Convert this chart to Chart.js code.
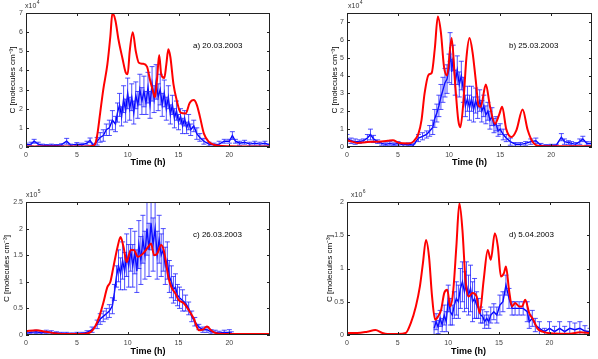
<!DOCTYPE html>
<html>
<head>
<meta charset="utf-8">
<script src="https://cdn.jsdelivr.net/npm/chart.js@4.4.1/dist/chart.umd.min.js"></script>
<style>
  html, body { margin: 0; padding: 0; background: #fff; }
  #lienzo { position: relative; width: 598px; height: 359px; overflow: hidden; }
  #lienzo canvas { position: absolute; }
</style>
</head>
<body>
<div id="lienzo">
  <canvas id="panelA" width="300" height="180" style="left:0;top:0"></canvas>
  <canvas id="panelB" width="298" height="180" style="left:300px;top:0"></canvas>
  <canvas id="panelC" width="300" height="179" style="left:0;top:180px"></canvas>
  <canvas id="panelD" width="298" height="179" style="left:300px;top:180px"></canvas>
</div>
<script>
// ticks
const ticksTiempo = [0, 5, 10, 15, 20];
const ticksYA = [0, 1, 2, 3, 4, 5, 6, 7];
const ticksYB = [0, 1, 2, 3, 4, 5, 6, 7];
const ticksYC = [0, 0.5, 1, 1.5, 2, 2.5];
const ticksYD = [0, 0.5, 1, 1.5, 2];

// a) 20.03.2003
const horasModeloA = [0, 2, 4, 6, 6.5, 6.8, 7, 7.3, 7.6, 8, 8.3, 8.5, 8.8, 9.1, 9.5, 9.8, 10, 10.2, 10.5, 10.8, 11.1, 11.5, 11.9, 12.2, 12.5, 12.7, 12.9, 13.1, 13.3, 13.6, 13.8, 14, 14.2, 14.5, 14.8, 15.2, 15.7, 16.1, 16.5, 16.8, 17.1, 17.5, 18, 18.5, 19, 20, 22, 24];
const modeloA = [0.02, 0.02, 0.02, 0.03, 0.05, 0.15, 0.6, 1.8, 3.0, 4.3, 5.8, 7.0, 6.6, 5.6, 4.6, 3.9, 3.8, 5.0, 6.0, 5.0, 4.4, 4.35, 4.2, 3.5, 2.9, 2.6, 3.6, 4.8, 3.8, 3.6, 4.3, 5.1, 4.7, 3.3, 2.5, 1.8, 1.75, 2.3, 2.45, 2.2, 1.6, 0.7, 0.26, 0.12, 0.06, 0.04, 0.03, 0.03];
const horasMedidaA = [0, 0.5, 0.8, 1.2, 1.6, 2, 2.5, 3, 3.5, 4, 4.4, 5, 5.5, 6, 6.3, 6.6, 7, 7.3, 7.6, 7.9, 8.2, 8.5, 8.8, 9.0, 9.2, 9.4, 9.6, 9.8, 10.0, 10.2, 10.4, 10.6, 10.8, 11.0, 11.2, 11.4, 11.6, 11.8, 12.0, 12.2, 12.4, 12.6, 12.8, 13.0, 13.2, 13.4, 13.6, 13.8, 14.0, 14.2, 14.4, 14.6, 14.8, 15.0, 15.2, 15.4, 15.6, 15.8, 16.0, 16.2, 16.5, 16.8, 17.1, 17.5, 18.0, 18.5, 19.0, 19.5, 20.0, 20.3, 20.6, 21.0, 21.5, 22, 22.5, 23, 23.5, 24];
const medidaA = [0.1, 0.15, 0.3, 0.15, 0.1, 0.08, 0.1, 0.08, 0.12, 0.3, 0.1, 0.15, 0.12, 0.2, 0.35, 0.1, 0.3, 0.5, 0.6, 0.9, 1.0, 1.4, 1.2, 1.8, 2.2, 1.6, 2.5, 1.9, 2.8, 2.0, 2.6, 1.8, 2.7, 2.2, 3.0, 2.4, 2.9, 2.3, 3.1, 2.2, 3.3, 2.5, 3.4, 2.6, 3.0, 2.2, 2.8, 2.0, 2.6, 1.7, 2.2, 1.5, 1.9, 1.3, 1.6, 1.1, 1.5, 1.0, 1.3, 0.9, 1.1, 0.7, 0.5, 0.3, 0.15, 0.1, 0.15, 0.3, 0.3, 0.6, 0.3, 0.2, 0.25, 0.15, 0.2, 0.15, 0.2, 0.1];
const erroresA = [0.1, 0.1, 0.1, 0.1, 0.05, 0.05, 0.05, 0.05, 0.05, 0.15, 0.05, 0.08, 0.08, 0.1, 0.12, 0.05, 0.2, 0.25, 0.3, 0.3, 0.4, 0.5, 0.4, 0.5, 0.6, 0.5, 0.7, 0.6, 0.8, 0.6, 0.7, 0.6, 0.7, 0.7, 0.8, 0.7, 0.8, 0.6, 0.8, 0.7, 0.9, 0.7, 0.9, 0.7, 0.8, 0.6, 0.7, 0.6, 0.6, 0.5, 0.5, 0.5, 0.5, 0.4, 0.4, 0.4, 0.4, 0.3, 0.4, 0.3, 0.3, 0.3, 0.2, 0.15, 0.1, 0.1, 0.15, 0.1, 0.1, 0.2, 0.1, 0.1, 0.1, 0.1, 0.1, 0.1, 0.1, 0.05];

// b) 25.03.2003
const horasModeloB = [0, 0.5, 1, 2, 3, 4, 4.5, 5, 6, 6.5, 7, 7.3, 7.6, 8, 8.3, 8.6, 8.9, 9.2, 9.5, 9.8, 10.25, 10.6, 10.9, 11.1, 11.4, 11.7, 12, 12.3, 12.6, 12.9, 13.1, 13.6, 14, 14.5, 14.9, 15.2, 15.6, 16.1, 16.6, 17.2, 17.7, 18.2, 18.9, 20, 22, 24];
const modeloB = [0.38, 0.3, 0.23, 0.28, 0.3, 0.35, 0.38, 0.25, 0.2, 0.3, 0.75, 1.5, 3.0, 4.05, 4.15, 5.5, 7.3, 6.4, 4.5, 4.0, 6.1, 3.5, 1.5, 1.1, 2.5, 5.0, 6.1, 5.3, 3.8, 2.3, 2.25, 3.5, 2.3, 1.3, 1.8, 2.25, 1.0, 0.56, 0.95, 2.1, 0.95, 0.28, 0.05, 0.04, 0.04, 0.04];
const horasMedidaB = [0, 0.4, 0.8, 1.2, 1.6, 2.0, 2.3, 2.6, 3.0, 3.4, 3.8, 4.2, 4.6, 5.0, 5.5, 6.0, 6.5, 7.0, 7.4, 7.8, 8.1, 8.4, 8.6, 8.8, 9.0, 9.2, 9.4, 9.6, 9.8, 10.0, 10.1, 10.25, 10.4, 10.6, 10.8, 11.0, 11.2, 11.4, 11.6, 11.8, 12.0, 12.2, 12.4, 12.6, 12.8, 13.0, 13.2, 13.4, 13.6, 13.8, 14.0, 14.2, 14.4, 14.6, 14.8, 15.0, 15.3, 15.6, 16.0, 16.5, 17.0, 17.5, 18.0, 18.5, 19.0, 19.5, 20.0, 20.5, 21.0, 21.3, 21.7, 22.0, 22.4, 22.8, 23.1, 23.5, 24.0];
const medidaB = [0.5, 0.35, 0.3, 0.3, 0.35, 0.5, 0.7, 0.45, 0.3, 0.2, 0.15, 0.2, 0.15, 0.2, 0.12, 0.15, 0.1, 0.5, 0.6, 0.7, 0.9, 1.1, 1.6, 1.9, 2.3, 2.8, 3.2, 3.6, 3.8, 4.4, 5.6, 4.2, 5.0, 3.6, 4.3, 3.5, 4.0, 3.2, 2.3, 2.7, 2.2, 2.7, 2.1, 2.6, 2.2, 2.6, 2.0, 2.3, 1.8, 2.0, 1.5, 1.7, 1.2, 1.3, 0.9, 1.0, 0.7, 0.5, 0.3, 0.15, 0.15, 0.2, 0.3, 0.35, 0.1, 0.08, 0.1, 0.1, 0.55, 0.3, 0.25, 0.2, 0.15, 0.3, 0.45, 0.2, 0.2];
const erroresB = [0.2, 0.15, 0.15, 0.1, 0.1, 0.2, 0.3, 0.2, 0.1, 0.1, 0.08, 0.1, 0.08, 0.1, 0.08, 0.08, 0.08, 0.2, 0.2, 0.2, 0.3, 0.4, 0.5, 0.5, 0.6, 0.7, 0.7, 0.8, 0.8, 0.8, 0.8, 0.7, 0.7, 0.7, 0.8, 0.7, 0.8, 0.7, 0.6, 0.7, 0.7, 0.7, 0.7, 0.7, 0.6, 0.6, 0.6, 0.6, 0.5, 0.5, 0.5, 0.5, 0.4, 0.4, 0.3, 0.3, 0.3, 0.2, 0.2, 0.1, 0.1, 0.1, 0.15, 0.15, 0.1, 0.05, 0.05, 0.05, 0.2, 0.15, 0.1, 0.1, 0.1, 0.15, 0.15, 0.1, 0.1];

// c) 26.03.2003
const horasModeloC = [0, 1, 2, 3, 4, 5, 6, 6.4, 6.8, 7.2, 7.6, 8, 8.3, 8.6, 9, 9.3, 9.6, 9.9, 10.3, 10.6, 11, 11.5, 12, 12.3, 12.6, 12.9, 13.3, 13.6, 14, 14.3, 14.7, 15, 15.5, 16, 16.5, 17, 17.4, 17.8, 18.2, 18.6, 19.5, 21, 24];
const modeloC = [0.07, 0.09, 0.06, 0.03, 0.02, 0.02, 0.03, 0.06, 0.16, 0.34, 0.6, 0.9, 1.0, 1.28, 1.65, 1.84, 1.65, 1.37, 1.6, 1.6, 1.47, 1.53, 1.65, 1.72, 1.5, 1.53, 1.69, 1.55, 1.09, 0.9, 0.78, 0.66, 0.6, 0.47, 0.31, 0.09, 0.1, 0.16, 0.09, 0.04, 0.02, 0.02, 0.02];
const horasMedidaC = [0, 0.5, 1, 1.5, 2, 2.5, 3, 3.5, 4, 4.5, 5, 5.5, 6, 6.5, 7.0, 7.3, 7.6, 7.9, 8.2, 8.5, 8.7, 8.9, 9.1, 9.3, 9.5, 9.7, 9.9, 10.1, 10.3, 10.5, 10.7, 10.9, 11.1, 11.3, 11.5, 11.7, 11.9, 12.1, 12.3, 12.5, 12.7, 12.9, 13.1, 13.3, 13.5, 13.7, 13.9, 14.1, 14.3, 14.5, 14.7, 14.9, 15.1, 15.4, 15.7, 16.0, 16.3, 16.6, 17.0, 17.4, 17.8, 18.2, 18.6, 19.0, 19.5, 20.0, 20.2];
const medidaC = [0.03, 0.05, 0.06, 0.04, 0.06, 0.05, 0.04, 0.03, 0.03, 0.02, 0.03, 0.03, 0.05, 0.1, 0.2, 0.3, 0.35, 0.4, 0.45, 0.55, 0.8, 1.1, 1.3, 1.15, 1.4, 1.2, 1.5, 1.3, 1.6, 1.3, 1.55, 1.2, 1.7, 1.4, 1.8, 1.5, 2.0, 1.6, 2.1, 1.7, 2.0, 1.5, 1.8, 1.5, 1.6, 1.3, 1.4, 1.1, 1.0, 0.85, 0.9, 0.75, 0.7, 0.65, 0.6, 0.5, 0.35, 0.25, 0.15, 0.1, 0.1, 0.06, 0.05, 0.04, 0.05, 0.05, 0.03];
const erroresC = [0.02, 0.03, 0.03, 0.02, 0.03, 0.03, 0.02, 0.02, 0.02, 0.02, 0.02, 0.02, 0.03, 0.05, 0.08, 0.1, 0.1, 0.1, 0.12, 0.15, 0.15, 0.2, 0.3, 0.3, 0.35, 0.35, 0.4, 0.4, 0.4, 0.4, 0.4, 0.4, 0.45, 0.45, 0.45, 0.45, 0.5, 0.5, 0.5, 0.5, 0.5, 0.45, 0.45, 0.4, 0.4, 0.35, 0.35, 0.3, 0.3, 0.25, 0.25, 0.2, 0.2, 0.2, 0.15, 0.12, 0.1, 0.08, 0.05, 0.05, 0.05, 0.04, 0.04, 0.03, 0.04, 0.05, 0.03];

// d) 5.04.2003
const horasModeloD = [0, 1, 2, 2.8, 3.5, 4, 5, 5.8, 6.3, 6.8, 7.2, 7.5, 7.8, 8.1, 8.4, 8.7, 9, 9.3, 9.6, 9.9, 10.2, 10.5, 10.8, 11.1, 11.4, 11.7, 12, 12.4, 12.8, 13.1, 13.5, 13.9, 14.2, 14.6, 14.9, 15.2, 15.5, 15.7, 16, 16.3, 16.6, 17, 17.3, 17.6, 18, 18.4, 18.8, 19.3, 20, 21, 22, 23, 24];
const modeloD = [0.03, 0.03, 0.05, 0.075, 0.03, 0.015, 0.015, 0.03, 0.18, 0.43, 0.73, 1.08, 1.43, 1.18, 0.58, 0.23, 0.28, 0.38, 0.63, 0.68, 0.43, 0.68, 1.33, 1.98, 1.58, 0.83, 0.58, 0.63, 0.58, 0.33, 0.83, 1.28, 1.13, 1.53, 1.33, 0.88, 0.93, 1.03, 0.68, 0.43, 0.48, 0.43, 0.43, 0.53, 0.33, 0.23, 0.1, 0.05, 0.025, 0.02, 0.02, 0.04, 0.03];
const horasMedidaD = [8.6, 8.8, 9.0, 9.2, 9.4, 9.6, 9.8, 10.0, 10.2, 10.4, 10.6, 10.8, 11.0, 11.2, 11.4, 11.6, 11.8, 12.0, 12.2, 12.4, 12.6, 12.8, 13.0, 13.2, 13.4, 13.6, 13.8, 14.0, 14.2, 14.5, 14.8, 15.1, 15.4, 15.7, 16.0, 16.3, 16.6, 17.0, 17.4, 17.8, 18.0, 18.3, 18.6, 19.0, 19.5, 20.0, 20.5, 21.0, 21.5, 22.0, 22.5, 23.0, 23.5, 24.0];
const medidaD = [0.1, 0.2, 0.12, 0.25, 0.15, 0.3, 0.2, 0.55, 0.35, 0.3, 0.45, 0.55, 0.5, 0.7, 0.8, 0.65, 0.75, 0.6, 0.7, 0.5, 0.55, 0.45, 0.4, 0.3, 0.28, 0.2, 0.25, 0.2, 0.3, 0.35, 0.3, 0.45, 0.5, 0.75, 0.55, 0.4, 0.4, 0.4, 0.4, 0.35, 0.2, 0.25, 0.15, 0.1, 0.05, 0.1, 0.05, 0.1, 0.05, 0.1, 0.08, 0.1, 0.06, 0.05];
const erroresD = [0.1, 0.12, 0.1, 0.12, 0.1, 0.15, 0.15, 0.2, 0.2, 0.15, 0.2, 0.25, 0.25, 0.3, 0.3, 0.3, 0.35, 0.3, 0.35, 0.3, 0.3, 0.2, 0.15, 0.12, 0.1, 0.1, 0.1, 0.1, 0.12, 0.12, 0.12, 0.15, 0.15, 0.15, 0.15, 0.1, 0.1, 0.1, 0.1, 0.15, 0.1, 0.12, 0.1, 0.1, 0.05, 0.1, 0.08, 0.1, 0.08, 0.1, 0.1, 0.1, 0.08, 0.05];

const FUENTE = '"Liberation Sans", Arial, sans-serif';
Chart.defaults.font.family = FUENTE;

const paneles = [
    { id: 'panelA', area: [26, 13, 270, 147], maxY: 7, ticksY: ticksYA, horasModelo: horasModeloA, modelo: modeloA, horasMedida: horasMedidaA, medida: medidaA, errores: erroresA,
      etiqueta: 'a) 20.03.2003', posEtiqueta: [193, 46], exponente: 4, posExp: [25, 6], tituloY: 13, tituloX: 17 },
    { id: 'panelB', area: [47, 13, 292, 147], maxY: 7.5, ticksY: ticksYB, horasModelo: horasModeloB, modelo: modeloB, horasMedida: horasMedidaB, medida: medidaB, errores: erroresB,
      etiqueta: 'b) 25.03.2003', posEtiqueta: [209, 46], exponente: 4, posExp: [48, 6], tituloY: 35, tituloX: 17 },
    { id: 'panelC', area: [26, 22, 270, 155], maxY: 2.5, ticksY: ticksYC, horasModelo: horasModeloC, modelo: modeloC, horasMedida: horasMedidaC, medida: medidaC, errores: erroresC,
      etiqueta: 'c) 26.03.2003', posEtiqueta: [193, 55], exponente: 5, posExp: [26, 15], tituloY: 7, tituloX: 7 },
    { id: 'panelD', area: [47, 22, 290, 155], maxY: 2, ticksY: ticksYD, horasModelo: horasModeloD, modelo: modeloD, horasMedida: horasMedidaD, medida: medidaD, errores: erroresD,
      etiqueta: 'd) 5.04.2003', posEtiqueta: [209, 55], exponente: 6, posExp: [51, 15], tituloY: 30, tituloX: 7 }
];

// marco tipo matlab + barras de error
function crearMarco(p) {
    return {
        id: 'marco' + p.id,
        afterDatasetDraw(chart, args) {
            if (args.index !== 1) return;
            const { ctx, chartArea: a, scales: { x, y } } = chart;
            const ds = chart.data.datasets[1];
            ctx.save();
            ctx.beginPath();
            ctx.rect(a.left, a.top, a.right - a.left, a.bottom - a.top);
            ctx.clip();
            ctx.strokeStyle = '#2222ff';
            ctx.lineWidth = 0.8;
            ctx.beginPath();
            ds.data.forEach((pt, i) => {
                const px = x.getPixelForValue(pt.x);
                const y1 = y.getPixelForValue(pt.y - ds.errores[i]);
                const y2 = y.getPixelForValue(pt.y + ds.errores[i]);
                ctx.moveTo(px, y1); ctx.lineTo(px, y2);
                ctx.moveTo(px - 2.5, y1); ctx.lineTo(px + 2.5, y1);
                ctx.moveTo(px - 2.5, y2); ctx.lineTo(px + 2.5, y2);
            });
            ctx.stroke();
            ctx.restore();
        },
        afterDraw(chart) {
            const { ctx, chartArea: a, scales: { x, y } } = chart;
            ctx.save();
            ctx.strokeStyle = '#222';
            ctx.lineWidth = 1;
            ctx.strokeRect(a.left + 0.5, a.top + 0.5, a.right - a.left - 1, a.bottom - a.top - 1);
            ctx.beginPath();
            x.ticks.forEach(t => {
                const px = Math.round(x.getPixelForValue(t.value)) + 0.5;
                ctx.moveTo(px, a.bottom); ctx.lineTo(px, a.bottom - 3);
                ctx.moveTo(px, a.top); ctx.lineTo(px, a.top + 3);
            });
            y.ticks.forEach(t => {
                const py = Math.round(y.getPixelForValue(t.value)) + 0.5;
                ctx.moveTo(a.left, py); ctx.lineTo(a.left + 3, py);
                ctx.moveTo(a.right, py); ctx.lineTo(a.right - 3, py);
            });
            ctx.stroke();

            ctx.fillStyle = '#000';
            ctx.textBaseline = 'middle';
            ctx.textAlign = 'left';
            ctx.font = '8px ' + FUENTE;
            ctx.fillText(p.etiqueta, p.posEtiqueta[0], p.posEtiqueta[1]);

            ctx.fillStyle = '#333';
            ctx.font = '7px ' + FUENTE;
            ctx.fillText('x10', p.posExp[0], p.posExp[1]);
            const w = ctx.measureText('x10').width;
            ctx.font = '5px ' + FUENTE;
            ctx.fillText(String(p.exponente), p.posExp[0] + w + 0.5, p.posExp[1] - 3);
            ctx.restore();
        }
    };
}

function crearPanel(p) {
    const ctx = document.getElementById(p.id).getContext('2d');
    const [L, T, R, B] = p.area;
    const W = ctx.canvas.width, H = ctx.canvas.height;
    return new Chart(ctx, {
        type: 'line',
        data: {
            datasets: [
                { label: 'Modelo', data: p.horasModelo.map((h, i) => ({ x: h, y: p.modelo[i] })), borderColor: '#ff0000', borderWidth: 2, pointRadius: 0, cubicInterpolationMode: 'monotone', fill: false },
                { label: 'Medida', data: p.horasMedida.map((h, i) => ({ x: h, y: p.medida[i] })), errores: p.errores, borderColor: '#0000ff', borderWidth: 1.4, pointRadius: 0, tension: 0, fill: false }
            ]
        },
        options: {
            responsive: false, animation: false, devicePixelRatio: 1,
            layout: { padding: { left: 0, top: T, right: W - R, bottom: 0 } },
            plugins: { legend: { display: false }, tooltip: { enabled: false } },
            scales: {
                x: {
                    type: 'linear', min: 0, max: 24,
                    grid: { display: false, drawTicks: false }, border: { display: false },
                    afterBuildTicks: s => { s.ticks = ticksTiempo.map(v => ({ value: v })); },
                    afterFit: s => { s.height = H - B; },
                    ticks: { padding: 4, color: '#444', font: { size: 7 }, maxRotation: 0, autoSkip: false, callback: v => String(v) },
                    title: { display: true, text: 'Time (h)', color: '#000', font: { size: 9, weight: 'bold' }, padding: { top: 0, bottom: p.tituloX - 5.4 } }
                },
                y: {
                    type: 'linear', min: 0, max: p.maxY,
                    grid: { display: false, drawTicks: false }, border: { display: false },
                    afterBuildTicks: s => { s.ticks = p.ticksY.map(v => ({ value: v })); },
                    afterFit: s => { s.width = L; },
                    ticks: { padding: 3, color: '#444', font: { size: 7 }, autoSkip: false, callback: v => String(v) },
                    title: { display: true, text: 'C [molecules cm⁻³]', color: '#000', font: { size: 8 }, padding: { top: p.tituloY - 4.8, bottom: 0 } }
                }
            }
        },
        plugins: [crearMarco(p)]
    });
}

paneles.forEach(crearPanel);
</script>
</body>
</html>
